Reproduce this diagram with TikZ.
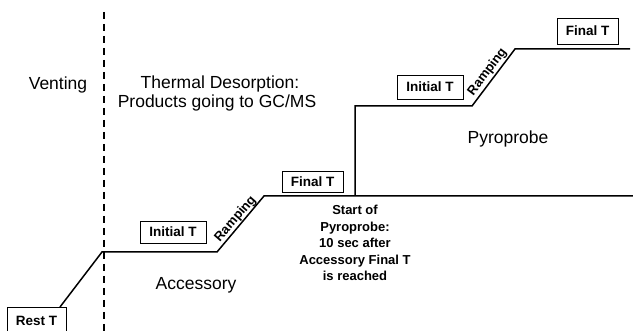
\documentclass[tikz,border=0pt]{standalone}
\usepackage{fontspec}
\setmainfont{Liberation Sans}
\begin{document}
\begin{tikzpicture}[x=1pt,y=-1pt,
  curve/.style={line width=1.5pt,line join=miter},
  tbox/.style={draw,line width=0.7pt,fill=white,font=\fontsize{13.5}{15}\selectfont\bfseries,inner sep=0pt,align=center},
  big/.style={font=\fontsize{17.5}{19}\selectfont,align=center,inner sep=0pt},
  ramp/.style={font=\fontsize{13}{14}\selectfont\bfseries,inner sep=0pt},
  note/.style={font=\fontsize{13}{16.5}\selectfont\bfseries,align=center,inner sep=0pt}]
\useasboundingbox (0,0) rectangle (633,331);
% accessory curve
\coordinate (a0) at (60,307);
\coordinate (a1) at (102,252);
\coordinate (a2) at (217,252);
\coordinate (a3) at (264,196);
\coordinate (a4) at (633,196);
% pyroprobe curve
\coordinate (p0) at (355,196);
\coordinate (p1) at (355,106);
\coordinate (p2) at (472,106);
\coordinate (p3) at (515,49);
\coordinate (p4) at (630,49);
% dashed line
\coordinate (d0) at (104,12);
\coordinate (d1) at (104,331);
\draw[line width=1.3pt,dash pattern=on 7pt off 5pt] (d0) -- (d1);
\draw[curve] (a0) -- (a1) -- (a2) -- (a3) -- (a4);
\draw[curve] (p0) -- (p1) -- (p2) -- (p3) -- (p4);
% boxes
\node[tbox,minimum width=59pt,minimum height=28pt] (rest) at (36.5,321) {Rest T};
\node[tbox,minimum width=66pt,minimum height=22pt] (ini1) at (173,232) {Initial T};
\node[tbox,minimum width=61pt,minimum height=21pt] (fin1) at (312.5,181.5) {Final T};
\node[tbox,minimum width=66pt,minimum height=24pt] (ini2) at (430,87) {Initial T};
\node[tbox,minimum width=61pt,minimum height=26pt] (fin2) at (587.5,31) {Final T};
% ramping labels
\node[ramp,rotate=49] (r1) at (235.5,219) {Ramping};
\node[ramp,rotate=53] (r2) at (487.5,72) {Ramping};
% texts
\node[big] (vent) at (58,85) {Venting};
\node[big] (therm) at (217,93) {\hspace*{6pt}Thermal Desorption:\\Products going to GC/MS};
\node[big] (acc) at (196,285) {Accessory};
\node[big] (pyro) at (508,139) {Pyroprobe};
\node[note] (start) at (355,243) {Start of\\Pyroprobe:\\10 sec after\\Accessory Final T\\is reached};
\end{tikzpicture}
\end{document}
